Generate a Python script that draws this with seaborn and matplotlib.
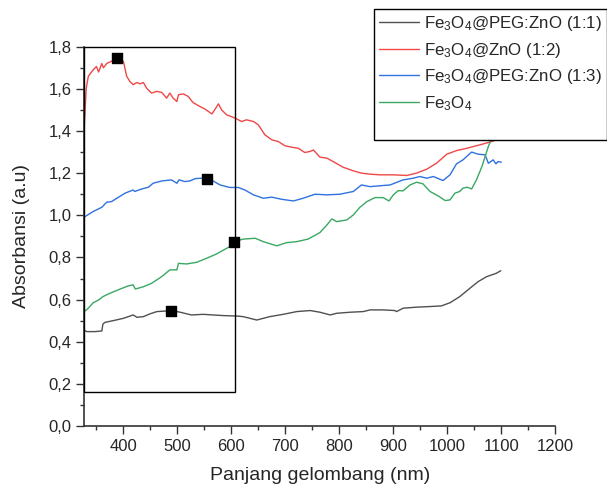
import seaborn as sns
import pandas as pd
import matplotlib.pyplot as plt
from matplotlib.patches import Rectangle
from matplotlib.lines import Line2D
from matplotlib.ticker import MultipleLocator, FuncFormatter

# Fe3O4@PEG:ZnO (1:1)
wl_11 = [327, 332, 347, 360, 362, 366, 381, 400, 418, 425, 437, 449, 462, 480, 490, 505, 526, 548,
         566, 585, 610, 622, 647, 671, 696, 721, 746, 764, 783, 795, 820, 844, 857, 881, 903, 906,
         918, 943, 968, 989, 1005, 1023, 1042, 1057, 1073, 1082, 1091, 1099]
abs_11 = [0.456, 0.448, 0.448, 0.451, 0.484, 0.492, 0.500, 0.511, 0.527, 0.516, 0.519, 0.532, 0.543,
          0.546, 0.548, 0.540, 0.527, 0.530, 0.527, 0.524, 0.522, 0.519, 0.503, 0.519, 0.530, 0.543,
          0.548, 0.540, 0.527, 0.535, 0.540, 0.543, 0.551, 0.551, 0.548, 0.543, 0.559, 0.564, 0.567,
          0.570, 0.585, 0.614, 0.654, 0.685, 0.709, 0.717, 0.725, 0.737]

# Fe3O4@ZnO (1:2)
wl_12 = [327, 331, 335, 344, 350, 354, 360, 363, 369, 381, 390, 400, 406, 412, 418, 425, 431, 437,
         443, 452, 462, 471, 480, 486, 492, 499, 502, 511, 520, 529, 542, 551, 564, 571, 576, 582,
         591, 607, 619, 628, 641, 650, 662, 675, 687, 699, 712, 724, 736, 746, 752, 764, 777, 792,
         807, 826, 841, 857, 875, 900, 925, 943, 962, 980, 999, 1017, 1036, 1060, 1085, 1100]
abs_12 = [1.40, 1.60, 1.66, 1.69, 1.706, 1.68, 1.72, 1.70, 1.72, 1.735, 1.745, 1.73, 1.66, 1.635,
          1.62, 1.63, 1.624, 1.63, 1.603, 1.58, 1.588, 1.583, 1.556, 1.58, 1.556, 1.54, 1.572, 1.576,
          1.564, 1.535, 1.516, 1.504, 1.481, 1.508, 1.529, 1.50, 1.477, 1.461, 1.445, 1.453, 1.445,
          1.429, 1.382, 1.358, 1.35, 1.33, 1.323, 1.318, 1.298, 1.303, 1.31, 1.276, 1.271, 1.25,
          1.228, 1.211, 1.20, 1.195, 1.192, 1.192, 1.189, 1.20, 1.219, 1.247, 1.29, 1.307, 1.318,
          1.334, 1.352, 1.368]

# Fe3O4@PEG:ZnO (1:3)
wl_13 = [327, 329, 344, 360, 369, 378, 388, 403, 418, 421, 434, 446, 455, 471, 489, 499, 503, 514,
         523, 533, 545, 554, 566, 579, 597, 613, 625, 641, 659, 675, 693, 715, 733, 755, 777, 801,
         826, 841, 857, 875, 894, 918, 937, 949, 962, 974, 992, 1005, 1017, 1029, 1045, 1057, 1070,
         1076, 1085, 1090, 1094, 1100]
abs_13 = [0.99, 0.994, 1.018, 1.038, 1.062, 1.065, 1.081, 1.105, 1.12, 1.113, 1.125, 1.133, 1.152,
          1.163, 1.168, 1.152, 1.168, 1.16, 1.163, 1.174, 1.176, 1.171, 1.163, 1.144, 1.132, 1.132,
          1.12, 1.097, 1.081, 1.086, 1.076, 1.068, 1.081, 1.10, 1.097, 1.10, 1.113, 1.144, 1.136,
          1.14, 1.144, 1.168, 1.176, 1.184, 1.176, 1.184, 1.165, 1.192, 1.244, 1.263, 1.30, 1.29,
          1.287, 1.247, 1.263, 1.244, 1.255, 1.252]

# Fe3O4
wl_fe = [327, 333, 344, 354, 362, 375, 394, 409, 418, 422, 437, 452, 471, 486, 499, 502, 517, 536,
         554, 573, 586, 597, 605, 622, 644, 659, 684, 702, 721, 742, 764, 777, 786, 795, 814, 826,
         838, 851, 866, 881, 892, 900, 909, 918, 931, 943, 955, 968, 983, 996, 1005, 1014, 1023,
         1029, 1037, 1045, 1054, 1064, 1070, 1076, 1082, 1090, 1100]
abs_fe = [0.543, 0.554, 0.585, 0.598, 0.614, 0.63, 0.65, 0.665, 0.67, 0.65, 0.661, 0.677, 0.709,
          0.741, 0.741, 0.772, 0.769, 0.777, 0.796, 0.817, 0.836, 0.851, 0.875, 0.887, 0.891, 0.875,
          0.855, 0.87, 0.875, 0.887, 0.918, 0.954, 0.983, 0.97, 0.978, 1.002, 1.038, 1.065, 1.084,
          1.084, 1.068, 1.097, 1.117, 1.116, 1.144, 1.157, 1.149, 1.113, 1.092, 1.07, 1.073, 1.105,
          1.113, 1.129, 1.133, 1.125, 1.168, 1.231, 1.279, 1.326, 1.366, 1.43, 1.50]

labels = [r'Fe$_3$O$_4$@PEG:ZnO (1:1)', r'Fe$_3$O$_4$@ZnO (1:2)',
          r'Fe$_3$O$_4$@PEG:ZnO (1:3)', r'Fe$_3$O$_4$']
colors = ['#505050', '#f04848', '#2f72e0', '#3aa863']

# highlighted peak points and the box drawn around the UV-vis region
mark_wl = [489, 389, 554, 605]
mark_abs = [0.545, 1.745, 1.171, 0.875]
box_wl = [327, 607]
box_abs = [0.16, 1.8]

frames = []
for lab, w, a in zip(labels, [wl_11, wl_12, wl_13, wl_fe], [abs_11, abs_12, abs_13, abs_fe]):
    frames.append(pd.DataFrame({'wl': w, 'abs': a, 'sample': lab}))
df = pd.concat(frames, ignore_index=True)

sns.set_style('ticks')
plt.rcParams['font.family'] = ['Liberation Sans', 'DejaVu Sans']
plt.rcParams['mathtext.default'] = 'regular'

fig = plt.figure(figsize=(6.07, 4.84), dpi=100)
ax = fig.add_axes([0.1384, 0.1198, 0.7764, 0.7837])

sns.lineplot(data=df, x='wl', y='abs', hue='sample', hue_order=labels,
             palette=dict(zip(labels, colors)), estimator=None, sort=False,
             linewidth=1.0, legend=False, ax=ax)

ax.scatter(mark_wl, mark_abs, marker='s', s=48, color='black', zorder=5)

ax.add_patch(Rectangle((box_wl[0], box_abs[0]), box_wl[1] - box_wl[0], box_abs[1] - box_abs[0],
                       fill=False, edgecolor='black', linewidth=1.0, clip_on=False, zorder=4))

ax.set_xlim(327, 1200)
ax.set_ylim(0, 1.8)
ax.xaxis.set_major_locator(MultipleLocator(100))
ax.xaxis.set_minor_locator(MultipleLocator(50))
ax.yaxis.set_major_locator(MultipleLocator(0.2))
ax.yaxis.set_minor_locator(MultipleLocator(0.1))
ax.yaxis.set_major_formatter(FuncFormatter(lambda v, p: f'{v:.1f}'.replace('.', ',')))
ax.tick_params(which='major', direction='out', length=5.5, width=1, labelsize=12, color='#333333')
ax.tick_params(which='minor', direction='out', length=3, width=1, color='#333333')
sns.despine(ax=ax)
for s in ['left', 'bottom']:
    ax.spines[s].set_linewidth(1.2)
    ax.spines[s].set_color('#333333')

ax.set_xlabel('Panjang gelombang (nm)', fontsize=14, labelpad=10)
ax.set_ylabel('Absorbansi (a.u)', fontsize=14, labelpad=13)

handles = [Line2D([], [], color=c, linewidth=1.0) for c in colors]
handles.append(Line2D([], [], color='none'))
leg = fig.legend(handles, labels + [' '], loc='upper left',
                 bbox_to_anchor=(374 / 607, 1 - 9 / 484), fontsize=12.2,
                 frameon=True, fancybox=False, framealpha=1, edgecolor='black',
                 handlelength=2.35, handletextpad=0.3, labelspacing=0.45, borderpad=0.3,
                 borderaxespad=0)
leg.get_frame().set_linewidth(1.0)

fig.savefig('out.png', dpi=100)
